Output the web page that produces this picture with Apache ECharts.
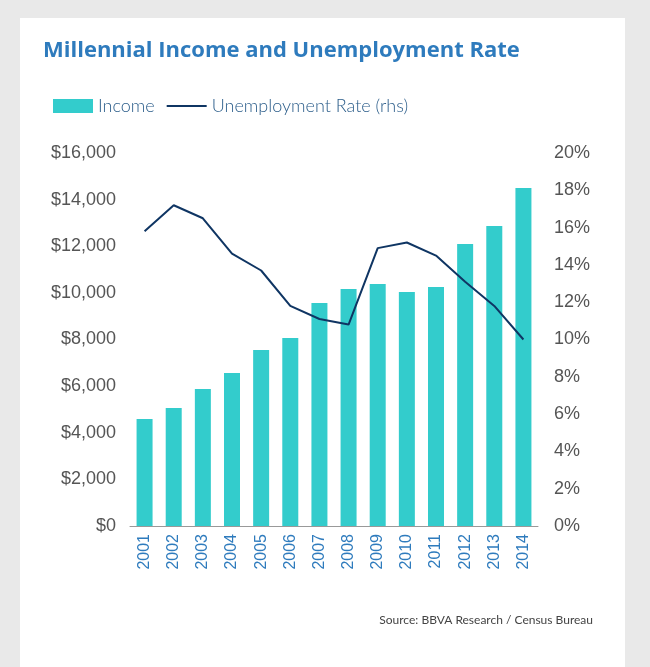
<!DOCTYPE html>
<html>
<head>
<meta charset="UTF-8">
<script src="https://cdn.jsdelivr.net/npm/echarts@6/dist/echarts.min.js"></script>
<style>
body{margin:0;background:#e9e9e9;font-family:Lato,"Noto Sans",sans-serif}
#panel{position:absolute;left:20px;top:18px;width:605px;height:649px;background:#fff}
#main{width:650px;height:667px;position:absolute;left:0;top:0}
</style>
</head>
<body>
<div id="panel"></div>
<div id="main"></div>
<script>
const years = ['2001','2002','2003','2004','2005','2006','2007','2008','2009','2010','2011','2012','2013','2014'];
const income = [4590,5060,5880,6560,7550,8060,9570,10170,10380,10040,10250,12100,12870,14500];
const unemployment = [15.8,17.2,16.5,14.6,13.7,11.8,11.1,10.8,14.9,15.2,14.5,13.1,11.8,10.0];

const chart = echarts.init(document.getElementById('main'));
chart.setOption({
  title:{text:'Millennial Income and Unemployment Rate',left:38,top:35,
    textStyle:{color:'#2e7bbd',fontSize:22,fontWeight:'bold',fontFamily:'Open Sans'}},
  legend:{left:48,top:92,itemGap:12,
    textStyle:{color:'#2b5d8a',fontSize:18,fontWeight:300,fontFamily:'Lato'},
    data:[{name:'Income',icon:'rect',itemStyle:{color:'#33cccc'}},
          {name:'Unemployment Rate (rhs)',icon:'path://M0,6L40,6L40,8L0,8Z'}],
    itemWidth:40,itemHeight:14},
  grid:{left:130,right:112,top:153,bottom:141},
  xAxis:{type:'category',data:years,
    axisLine:{lineStyle:{color:'#999'}},axisTick:{show:false},
    axisLabel:{rotate:90,color:'#2e7bbd',fontSize:16,margin:8}},
  yAxis:[
    {type:'value',min:0,max:16000,interval:2000,splitLine:{show:false},
     axisLabel:{color:'#555',fontSize:18,fontWeight:300,margin:14,formatter:v=>'$'+v.toLocaleString('en-US')}},
    {type:'value',min:0,max:20,interval:2,splitLine:{show:false},
     axisLabel:{color:'#555',fontSize:18,fontWeight:300,margin:16,formatter:'{value}%'}}
  ],
  series:[
    {name:'Income',type:'bar',data:income,barWidth:16,itemStyle:{color:'#33cccc'}},
    {name:'Unemployment Rate (rhs)',type:'line',yAxisIndex:1,data:unemployment,
     symbol:'none',lineStyle:{color:'#0f3563',width:2},itemStyle:{color:'#0f3563'}}
  ],
  graphic:[{type:'text',right:57,top:614,
    style:{text:'Source: BBVA Research / Census Bureau',fill:'#444',fontSize:12,fontFamily:'Lato'}}]
});
</script>
</body>
</html>
